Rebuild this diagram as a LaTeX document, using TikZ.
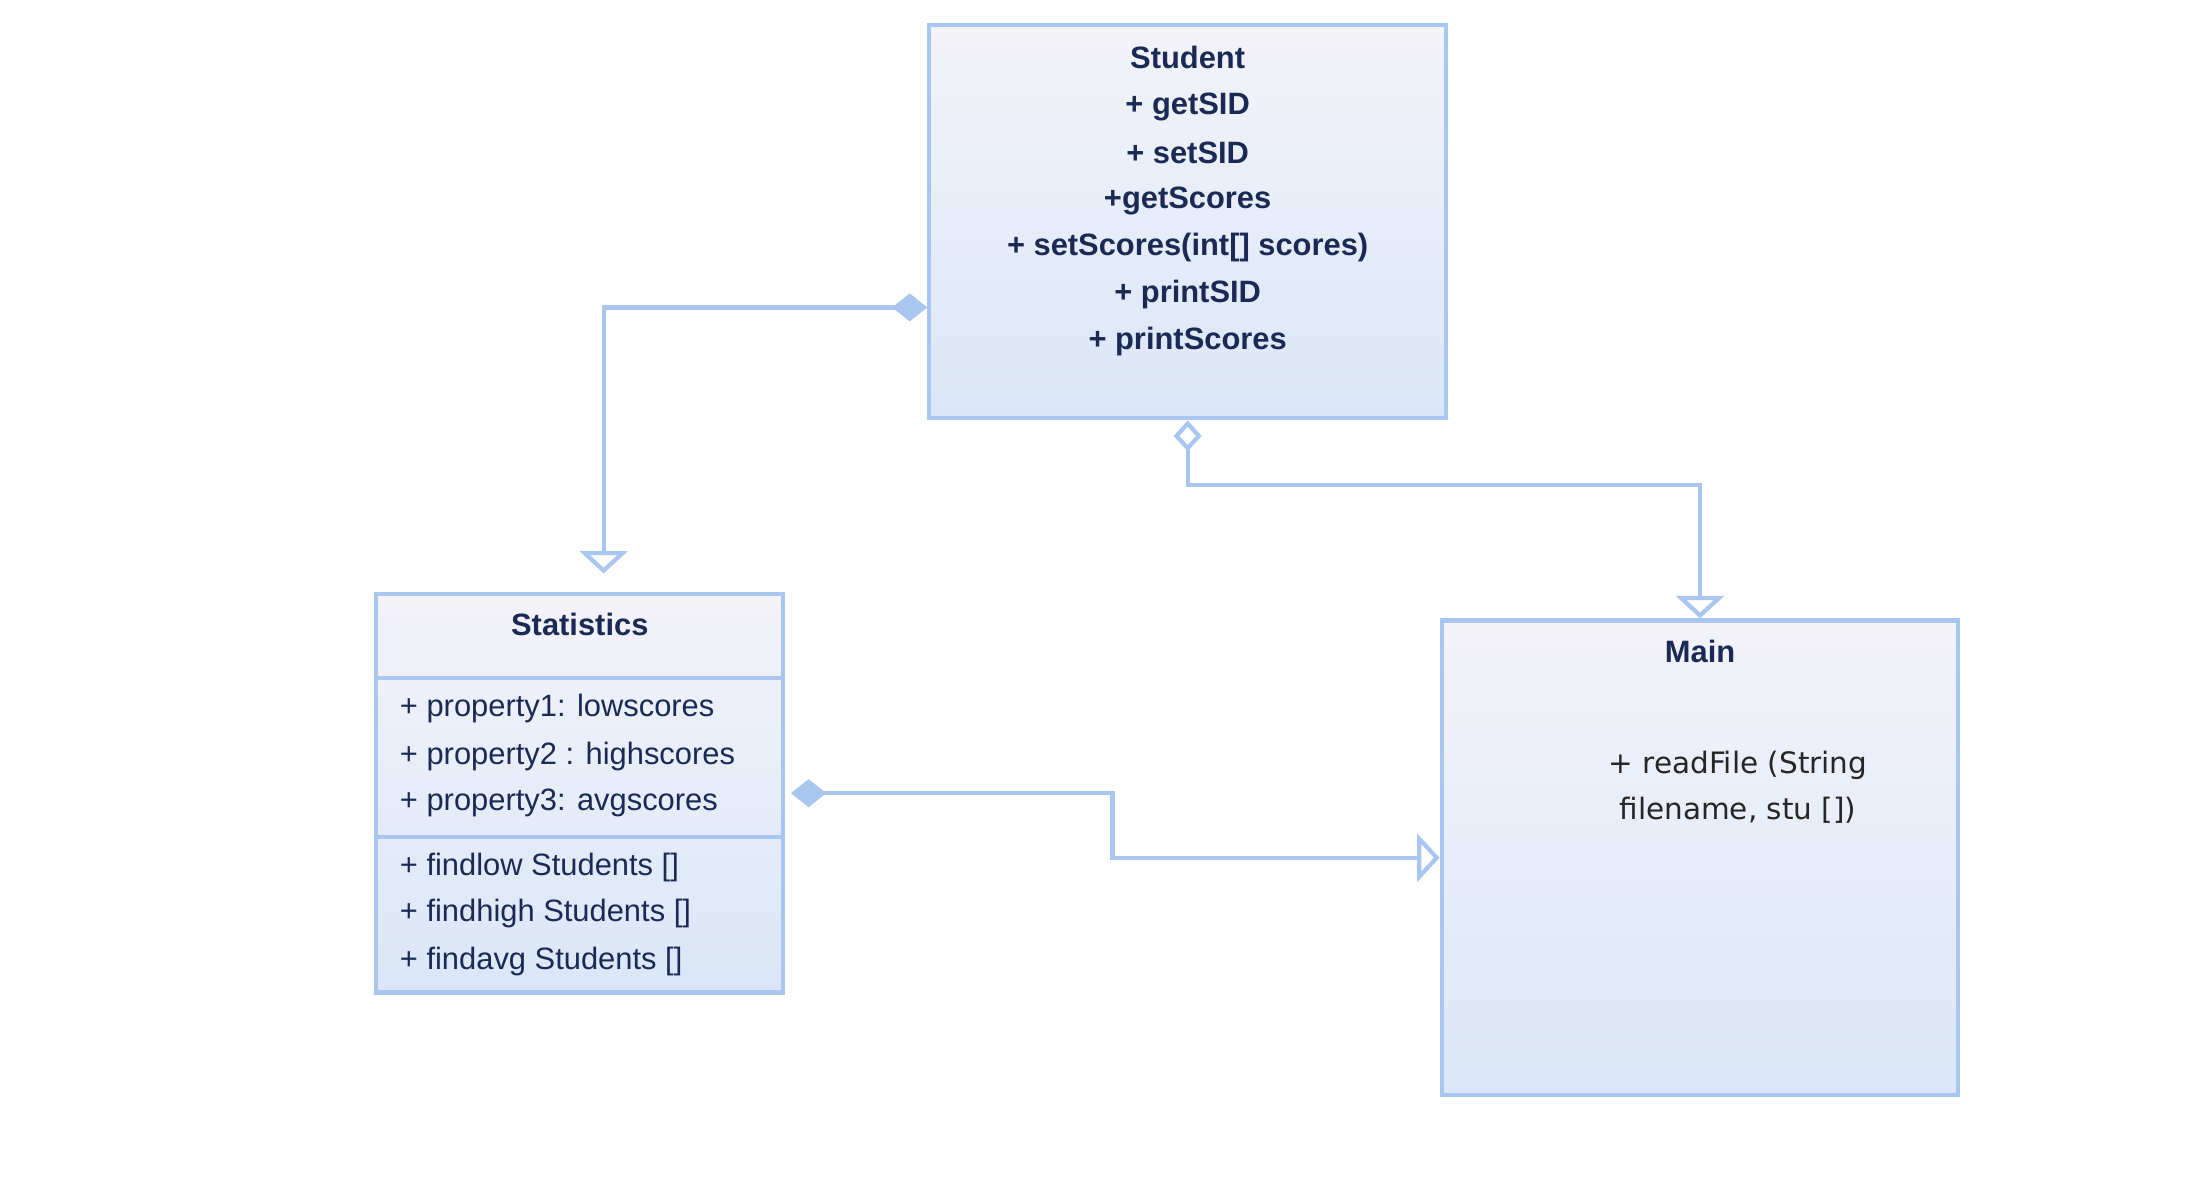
\documentclass[tikz,border=0pt]{standalone}
\usepackage{fontspec}
\newfontfamily\umlfont{Liberation Sans}
\newfontfamily\grandefont{DejaVu Sans}
\usetikzlibrary{arrows.meta,calc}

\definecolor{umlline}{RGB}{168,198,240}
\definecolor{umltop}{RGB}{243,243,248}
\definecolor{umlbot}{RGB}{218,230,248}
\definecolor{umltext}{RGB}{27,42,85}

\tikzset{
  umlbox/.style={draw=umlline, line width=1.5pt, top color=umltop, bottom color=umlbot, inner sep=0pt},
  link/.style={draw=umlline, line width=1.5pt},
  title/.style={font=\umlfont\bfseries\fontsize{11}{13}\selectfont, text=umltext, inner sep=0.75pt},
  member/.style={font=\umlfont\fontsize{11}{13}\selectfont, text=umltext, anchor=west, inner sep=0.75pt},
}

\begin{document}
\begin{tikzpicture}[x=0.5pt,y=0.5pt,yscale=-1,xscale=1]
\useasboundingbox (0,0) rectangle (1560,855);

%Classes
\node [umlbox, minimum width=184pt, minimum height=140pt] (student) at (846,158) {};
\node [umlbox, minimum width=145pt, minimum height=142pt] (stat) at (413,565) {};
\node [umlbox, minimum width=184pt, minimum height=169pt] (main) at (1211,611) {};

%Compartments of Statistics
\draw [link]  (stat.west |- 0,483) -- (stat.east |- 0,483) ;
\draw [link]  (stat.west |- 0,596) -- (stat.east |- 0,596) ;

%Connectors
\draw [link, {Diamond[length=12.5pt,width=10pt]}-{Triangle[open,length=8pt,width=17pt]}, shorten >=6.5pt]
  (student.west |- 0,219) -| (stat.north -| 430,0) ;
\draw [link, {Diamond[open,length=11pt,width=10pt]}-{Triangle[open,length=8pt,width=17pt]}]
  (student.south) -- ++(0,46) -| (main.north) ;
\draw [link, {Diamond[length=12.5pt,width=10pt]}-{Triangle[open,length=8pt,width=17pt]}, shorten <=2pt]
  (stat.east |- 0,565) -| ($(stat.east)!0.5!(main.west)$) |- (main.west) ;

% Text Node
\draw (846,41) node [title] (stuname) {Student};
\draw (846,76) node [title] (stu1) {+ getSID};
\draw (846,109) node [title] (stu2) {+ setSID};
\draw (846,143) node [title] (stu3) {+getScores};
\draw (846,176) node [title] (stu4) {+ setScores(int[] scores)};
\draw (846,210) node [title] (stu5) {+ printSID};
\draw (846,243) node [title] (stu6) {+ printScores};
% Text Node
\draw (413,445) node [title] (statname) {Statistics};
\draw (283,505) node [member] (prop1) {+ property1: lowscores};
\draw (283,539) node [member] (prop2) {+ property2 : highscores};
\draw (283,572) node [member] (prop3) {+ property3: avgscores};
\draw (283,618) node [member] (find1) {+ findlow Students []};
\draw (283,651) node [member] (find2) {+ findhigh Students []};
\draw (283,685) node [member] (find3) {+ findavg Students []};
% Text Node
\draw (1211,464) node [title] (mainname) {Main};
\draw (1238,561) node [font=\grandefont\fontsize{10.5}{16.5}\selectfont, align=center, text=black!85, inner sep=0.75pt] (readfile) {+ readFile (String\\filename, stu [])};

\end{tikzpicture}
\end{document}
